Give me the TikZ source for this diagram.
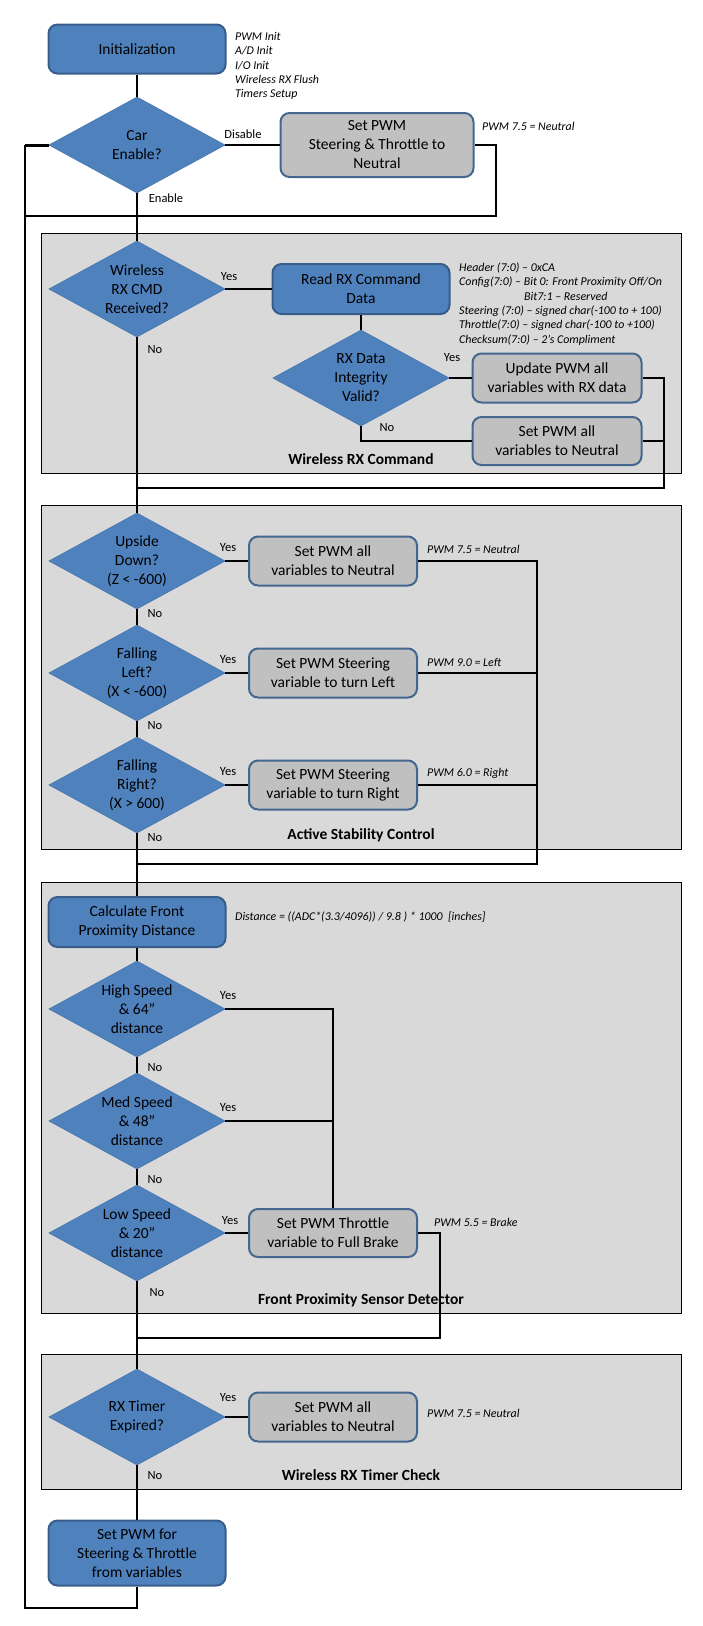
\documentclass[tikz,border=0pt]{standalone}
\usepackage{fontspec}
\setmainfont{Carlito}
\usetikzlibrary{shapes.geometric}
\definecolor{myblue}{HTML}{4F81BD}
\definecolor{bluebord}{HTML}{385D8A}
\definecolor{boxgray}{HTML}{C0C0C0}
\definecolor{graybord}{HTML}{44678F}
\definecolor{panelgray}{HTML}{D9D9D9}
\definecolor{diabord}{HTML}{4A7AB3}
\tikzset{
  conn/.style={draw=black, line width=2pt},
  bluebox/.style={rectangle, rounded corners=9pt, fill=myblue, draw=bluebord, line width=2pt, minimum width=177pt, minimum height=49pt, inner sep=0pt, align=center, font=\fontsize{15.5}{19}\selectfont},
  graybox/.style={rectangle, rounded corners=9pt, fill=boxgray, draw=graybord, line width=2pt, minimum width=168pt, minimum height=49pt, inner sep=0pt, align=center, font=\fontsize{15.5}{19}\selectfont},
  dia/.style={diamond, shape aspect=1.83, fill=myblue, draw=diabord, line width=0.8pt, minimum width=176pt, minimum height=96pt, inner sep=0pt, align=center, font=\fontsize{15.5}{19}\selectfont},
  yn/.style={inner sep=0pt, font=\fontsize{12.5}{15}\selectfont},
  ann/.style={inner sep=0pt, anchor=west, align=left, font=\fontsize{11.9}{14.4}\selectfont\itshape},
  sect/.style={inner sep=0pt, font=\fontsize{15.5}{19}\selectfont\bfseries},
  panel/.style={fill=panelgray, draw=black, line width=1pt},
}
\begin{document}
\begin{tikzpicture}[x=1pt,y=-1pt]
\useasboundingbox (0,0) rectangle (703,1626);
\fill[white] (0,0) rectangle (703,1626);

% panels
\path[panel] (41,233) rectangle (681,473);
\path[panel] (41,505) rectangle (681,849);
\path[panel] (41,882) rectangle (681,1313);
\path[panel] (41,1354) rectangle (681,1489);

\node[sect] (s1) at (361,459) {Wireless RX Command};
\node[sect] (s2) at (361,835) {Active Stability Control};
\node[sect] (s3) at (361,1300) {Front Proximity Sensor Detector};
\node[sect] (s4) at (361,1475) {Wireless RX Timer Check};

% nodes
\node[bluebox] (init) at (137,49) {Initialization};
\node[dia] (dcar) at (137,145) {Car\\Enable?};
\node[graybox, minimum width=193pt, minimum height=64pt] (setn) at (377,145) {Set PWM\\Steering \& Throttle to\\Neutral};

\node[dia] (drx) at (137,289) {Wireless\\RX CMD\\Received?};
\node[bluebox, minimum height=50pt] (read) at (361,289) {Read RX Command\\Data};
\node[dia] (dval) at (361,378) {RX Data\\Integrity\\Valid?};
\node[graybox, minimum width=169pt] (upd) at (557,378) {Update PWM all\\variables with RX data};
\node[graybox, minimum width=169pt, minimum height=48pt] (neu1) at (557,441) {Set PWM all\\variables to Neutral};

\node[dia] (dup) at (137,561) {Upside\\Down?\\(Z < -600)};
\node[graybox] (bup) at (333,561) {Set PWM all\\variables to Neutral};
\node[dia] (dfl) at (137,673) {Falling\\Left?\\(X < -600)};
\node[graybox] (bfl) at (333,673) {Set PWM Steering\\variable to turn Left};
\node[dia] (dfr) at (137,785) {Falling\\Right?\\(X > 600)};
\node[graybox] (bfr) at (333,785) {Set PWM Steering\\variable to turn Right};

\node[bluebox, minimum height=50pt] (calc) at (137,922) {Calculate Front\\Proximity Distance};
\node[dia] (dhs) at (137,1009) {High Speed\\\& 64”\\distance};
\node[dia] (dms) at (137,1121) {Med Speed\\\& 48”\\distance};
\node[dia] (dls) at (137,1233) {Low Speed\\\& 20”\\distance};
\node[graybox, minimum height=48pt] (brake) at (333,1233) {Set PWM Throttle\\variable to Full Brake};

\node[dia] (dtm) at (137,1417) {RX Timer\\Expired?};
\node[graybox] (btm) at (333,1417) {Set PWM all\\variables to Neutral};

\node[bluebox, minimum height=65pt] (final) at (137,1553) {Set PWM for\\Steering \& Throttle\\from variables};

% annotations
\node[ann] (a1) at (235,66) {PWM Init\\A/D Init\\I/O Init\\Wireless RX Flush\\Timers Setup};
\node[ann] (a2) at (482,126) {PWM 7.5 = Neutral};
\node[ann] (a3) at (459,304) {Header (7:0) – 0xCA\\Config(7:0) – Bit 0: Front Proximity Off/On\\\hspace*{65pt}Bit7:1 – Reserved\\Steering (7:0) – signed char(-100 to + 100)\\Throttle(7:0) – signed char(-100 to +100)\\Checksum(7:0) – 2’s Compliment};
\node[ann] (a4) at (427,549) {PWM 7.5 = Neutral};
\node[ann] (a5) at (427,662) {PWM 9.0 = Left};
\node[ann] (a6) at (427,773) {PWM 6.0 = Right};
\node[ann] (a7) at (235,917) {Distance = ((ADC*(3.3/4096)) / 9.8 ) * 1000~~[inches]};
\node[ann] (a8) at (434,1222) {PWM 5.5 = Brake};
\node[ann] (a9) at (427,1413) {PWM 7.5 = Neutral};

% branch labels
\node[yn] (l1) at (243,134) {Disable};
\node[yn] (l2) at (166,198) {Enable};
\node[yn] (l3) at (229,277) {Yes};
\node[yn] (l4) at (155,350) {No};
\node[yn] (l5) at (452,358) {Yes};
\node[yn] (l6) at (387,428) {No};
\node[yn] (l7) at (228,548) {Yes};
\node[yn] (l8) at (155,614) {No};
\node[yn] (l9) at (228,660) {Yes};
\node[yn] (l10) at (155,726) {No};
\node[yn] (l11) at (228,772) {Yes};
\node[yn] (l12) at (155,838) {No};
\node[yn] (l13) at (228,996) {Yes};
\node[yn] (l14) at (155,1068) {No};
\node[yn] (l15) at (228,1108) {Yes};
\node[yn] (l16) at (155,1180) {No};
\node[yn] (l17) at (230,1221) {Yes};
\node[yn] (l18) at (157,1293) {No};
\node[yn] (l19) at (228,1398) {Yes};
\node[yn] (l20) at (155,1476) {No};

% coordinates
\coordinate (c1) at (496,145);
\coordinate (c2) at (496,216);
\coordinate (lx1) at (25,216);
\coordinate (rxr) at (664,488);
\coordinate (rxl) at (137,488);
\coordinate (sr) at (537,864);
\coordinate (sl) at (137,864);
\coordinate (fr) at (440,1338);
\coordinate (fl) at (137,1338);
\coordinate (fb) at (137,1608);
\coordinate (lb) at (25,1608);
\coordinate (lt) at (25,145);

% connectors
\draw[conn] (init) -- (dcar);
\draw[conn] (dcar) -- (setn);
\draw[conn] (setn.east) -- (c1) -- (c2) -- (lx1);
\draw[conn] (dcar) -- (drx);
\draw[conn] (drx) -- (read);
\draw[conn] (read) -- (dval);
\draw[conn] (dval) -- (upd);
\draw[conn] (dval.south) |- (neu1.west);
\draw[conn] (upd.east) -| (rxr) -- (rxl);
\draw[conn] (neu1.east) -- (neu1.east -| rxr);
\draw[conn] (drx) -- (dup);
\draw[conn] (dup) -- (bup);
\draw[conn] (bup.east) -| (sr) -- (sl);
\draw[conn] (dup) -- (dfl);
\draw[conn] (dfl) -- (bfl);
\draw[conn] (bfl.east) -- (bfl.east -| sr);
\draw[conn] (dfl) -- (dfr);
\draw[conn] (dfr) -- (bfr);
\draw[conn] (bfr.east) -- (bfr.east -| sr);
\draw[conn] (dfr) -- (calc);
\draw[conn] (calc) -- (dhs);
\draw[conn] (dhs.east) -| (brake.north);
\draw[conn] (dhs) -- (dms);
\draw[conn] (dms.east) -- (dms.east -| brake.north);
\draw[conn] (dms) -- (dls);
\draw[conn] (dls) -- (brake);
\draw[conn] (brake.east) -| (fr) -- (fl);
\draw[conn] (dls) -- (dtm);
\draw[conn] (dtm) -- (btm);
\draw[conn] (dtm) -- (final);
\draw[conn] (final.south) -- (fb) -- (lb) -- (lt);
\draw[conn, line width=3pt] (lt) -- (dcar.west);
\end{tikzpicture}
\end{document}
